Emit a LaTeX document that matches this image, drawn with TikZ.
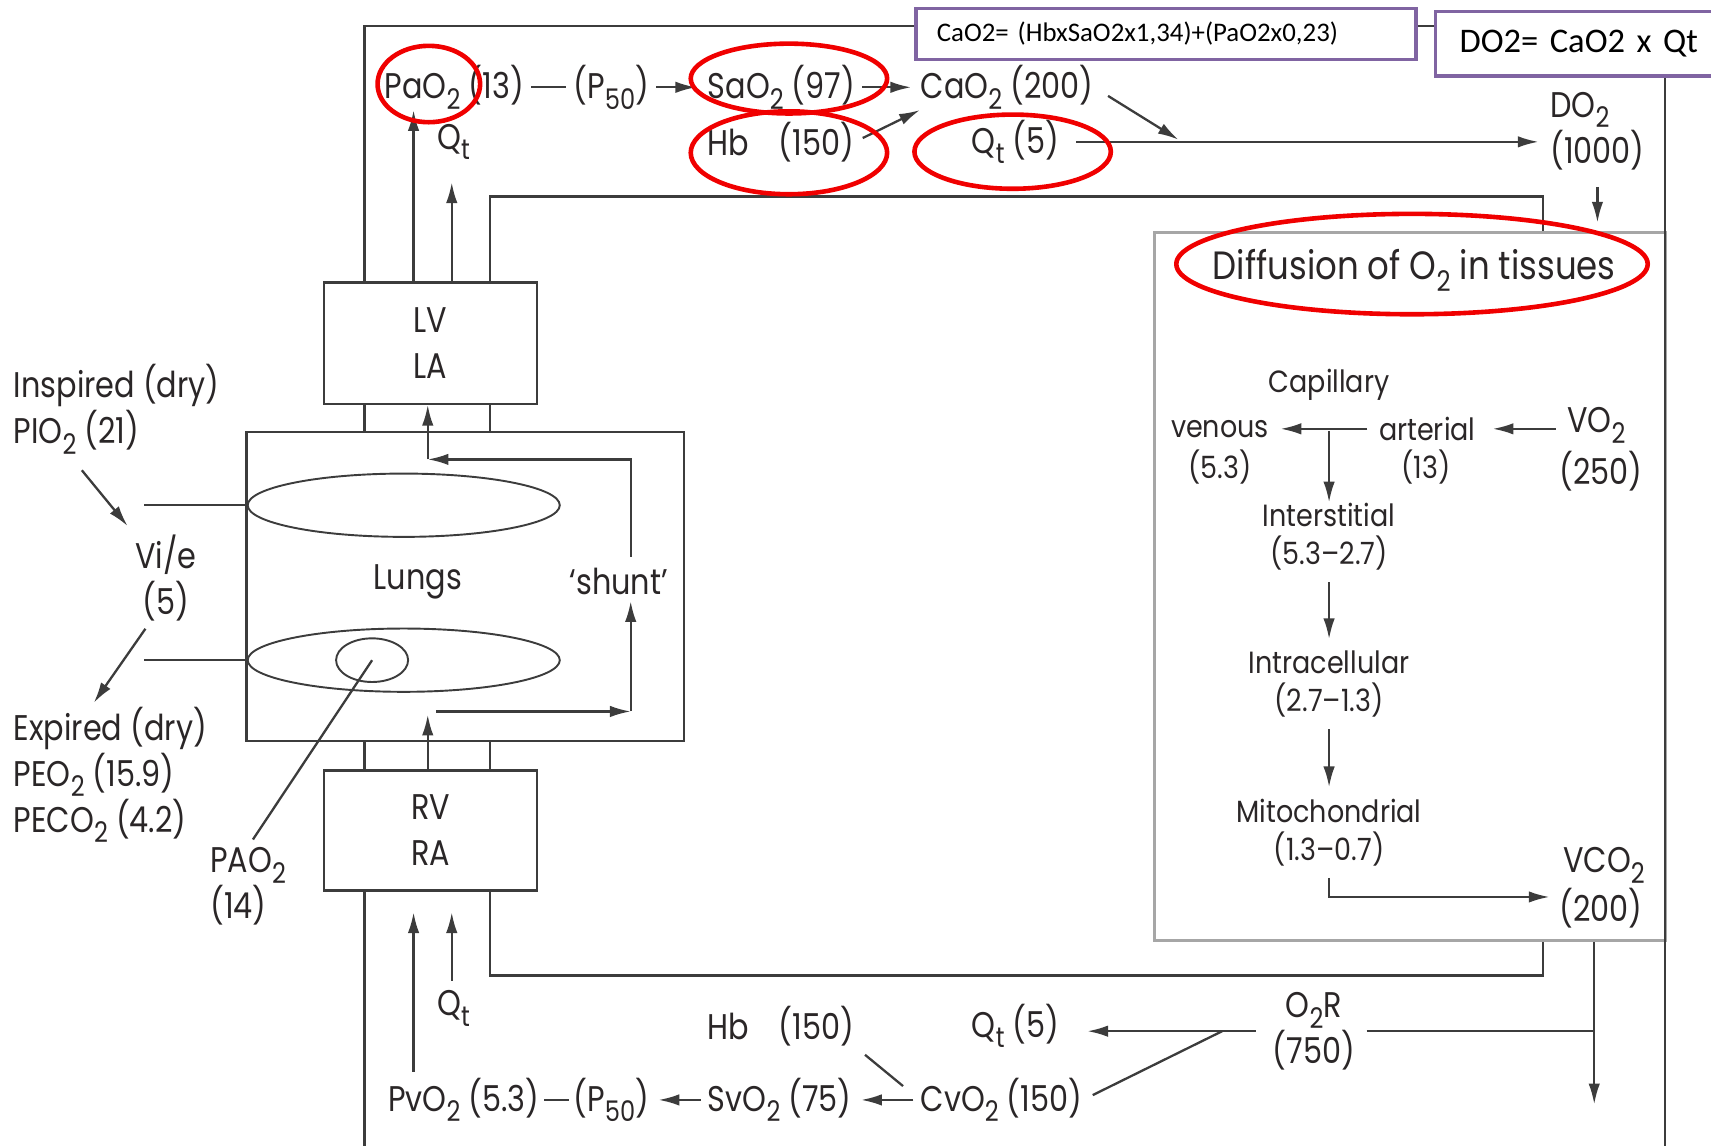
\documentclass[tikz,border=0pt]{standalone}
\usepackage{xcolor}
\usepackage{fontspec}
\usepackage{tikz}
\usetikzlibrary{shapes,arrows.meta,positioning,calc}
\newfontfamily\lblfont{Poppins}[FakeStretch=0.85]
\newfontfamily\difffont{Poppins}[FakeStretch=0.88]
\newfontfamily\titlefont{Poppins}[FakeStretch=0.86]
\newfontfamily\calfont{Carlito}
\definecolor{ink}{HTML}{2A2627}
\definecolor{wirec}{HTML}{3C3C3C}
\definecolor{ringred}{HTML}{F00000}
\definecolor{boxpurple}{HTML}{8064A2}
\newcommand\low[1]{\raisebox{-0.55ex}{\fontsize{7.4}{7.4}\selectfont #1}}
\tikzset{
  lbl/.style={inner sep=0pt, text=ink, font=\lblfont\fontsize{9.3}{12}\selectfont},
  sml/.style={inner sep=0pt, text=ink, font=\difffont\fontsize{8}{10}\selectfont, align=center},
  wire/.style={draw=wirec, line width=0.6pt},
  arr/.style={wire, -{Latex[length=1.9mm,width=1.05mm]}},
  organ/.style={rectangle, draw=wirec, line width=0.6pt, inner sep=0pt},
  alv/.style={ellipse, draw=wirec, line width=0.5pt, inner sep=0pt},
  ring/.style={draw=ringred, line width=1.2pt},
  formula/.style={rectangle, draw=boxpurple, line width=0.9pt, fill=white, anchor=north west, align=left, text=black, inner ysep=0pt},
}
\begin{document}
\begin{tikzpicture}[x=0.1mm, y=-0.1mm]
\useasboundingbox (0,0) rectangle (1568,1050);
\coordinate (c0) at (334,24);
\coordinate (c1) at (379,0);
\coordinate (c2) at (414,0);
\coordinate (c3) at (449,180);
\coordinate (c5) at (578,0);
\coordinate (c6) at (1414,0);
\coordinate (c7) at (1461,1012);
\coordinate (c8) at (1526,1060);
\coordinate (c9) at (449,894);
\coordinate (c10) at (132,0);

\node[organ, lbl, minimum width=19.5mm, minimum height=11.1mm, align=center] (lv) at (394.5,314.5) {LV\\LA};
\node[organ, minimum width=40.1mm, minimum height=28.3mm] (lung) at (426.5,537.5) {};
\node[organ, lbl, minimum width=19.5mm, minimum height=11mm, align=center] (rv) at (394.5,761) {RV\\RA};
\node[organ, draw=gray!70, minimum width=46.9mm, minimum height=64.9mm] (tis) at (1292.5,537.5) {};
\node[alv, minimum width=28.6mm, minimum height=5.8mm] (alv1) at (370,463) {};
\node[alv, minimum width=28.6mm, minimum height=5.8mm] (alv2) at (370,605) {};
\node[alv, minimum width=6.6mm, minimum height=4mm] (alv3) at (341,605) {};
\node[lbl] (lungs) at (383,533) {Lungs};
\node[lbl] (shunt) at (567,533) {‘shunt’};

\draw[wire] (lv.north -| c0) -- (c0) -| (c8);
\draw[wire] (rv.south -| c0) -- (c0 |- c8);
\draw[wire] (lv.north -| c3) -- (c3) -| (tis.north -| c6);
\draw[wire] (rv.south -| c9) -- (c9) -| (tis.south -| c6);
\foreach \c in {c0,c3} {
  \draw[wire] (lv.south -| \c) -- (lung.north -| \c);
  \draw[wire] (lung.south -| \c) -- (rv.north -| \c);
}

\node[formula, font=\calfont\fontsize{7}{8}\selectfont, text width=42mm, inner xsep=1.9mm, minimum height=4.7mm] (cab) at (838,6) {CaO2= (HbxSaO2x1,34)+(PaO2x0,23)};
\node[formula, font=\calfont\fontsize{9}{11}\selectfont, text width=26mm, inner xsep=2.2mm, minimum height=5.9mm] (dob) at (1314,9) {DO2= CaO2 x Qt};

\node[lbl, anchor=west] (pa) at (352,80) {PaO\low{2} (13)};
\node[lbl, anchor=west] (p50a) at (525,80) {(P\low{50})};
\node[lbl, anchor=west] (sa) at (648,80) {SaO\low{2} (97)};
\node[lbl, anchor=west] (ca) at (843,80) {CaO\low{2} (200)};
\node[lbl, anchor=west] (qa) at (400,130) {Q\low{t}};
\node[lbl, anchor=west] (hba) at (648,130) {Hb\hspace{0.6em} (150)};
\node[lbl, anchor=west] (qta) at (890,130) {Q\low{t} (5)};
\node[lbl, anchor=west, align=left] (do) at (1420,120) {DO\low{2}\\(1000)};
\coordinate (j1) at (1080,128);

\draw[arr] (lv.north -| c1) -- (pa.south -| c1);
\draw[arr, shorten >=2mm] (lv.north -| c2) -- (qa.south -| c2);
\draw[wire, shorten <=0.6mm, shorten >=0.6mm] (pa.east) -- (p50a.west);
\draw[arr, shorten <=0.6mm, shorten >=1mm] (p50a.east) -- (sa.west);
\draw[arr, shorten <=0.6mm, shorten >=0.8mm] (sa.east) -- (ca.west);
\draw[arr, shorten <=0.8mm] (hba.east) -- (ca.south west);
\draw[arr, shorten <=1.5mm] (ca.east) -- (j1);
\draw[arr, shorten <=1.5mm, shorten >=1mm] (qta.east) -- (qta.east -| do.west);
\draw[arr, shorten <=1.5mm, shorten >=0.8mm] (do.south) -- (do.south |- tis.north);

\node[lbl, anchor=north west, align=left] (insp) at (12,333) {Inspired (dry)\\PIO\low{2} (21)};
\node[lbl, align=center] (vie) at (152,530) {Vi/e\\(5)};
\node[lbl, anchor=north west, align=left] (expi) at (12,647) {Expired (dry)\\PEO\low{2} (15.9)\\PECO\low{2} (4.2)};
\node[lbl, anchor=north west, align=left] (pA) at (192,776) {PAO\low{2}\\(14)};
\draw[arr, shorten >=1mm] ([xshift=6.3mm, yshift=-1.4mm]insp.south west) -- (vie.north west);
\draw[arr] ([xshift=1mm, yshift=-0.6mm]vie.south west) -- ([xshift=7.4mm, yshift=0.3mm]expi.north west);
\draw[wire] (alv1.west -| c10) -- (alv1.west);
\draw[wire] (alv2.west -| c10) -- (alv2.west);
\draw[wire, shorten >=0.8mm] (alv3.center) -- (pA.north);

\coordinate (sh1) at (392,421);
\coordinate (sh2) at (392,655);
\coordinate (sh3) at (400,652);
\draw[arr] (sh1) -- (sh1 |- lv.south);
\draw[arr, shorten <=1mm] (shunt.north -| c5) |- (sh1);
\draw[arr] (rv.north -| sh2) -- (sh2);
\draw[arr] (sh3) -- (sh3 -| c5);
\draw[arr, shorten >=0.5mm] (sh3 -| c5) -- (shunt.south -| c5);

\node[lbl, anchor=west] (qb) at (400,924) {Q\low{t}};
\node[lbl, anchor=west] (pv) at (355,1008) {PvO\low{2} (5.3)};
\node[lbl, anchor=west] (p50v) at (525,1008) {(P\low{50})};
\node[lbl, anchor=west] (sv) at (648,1008) {SvO\low{2} (75)};
\node[lbl, anchor=west] (cv) at (843,1008) {CvO\low{2} (150)};
\node[lbl, anchor=west] (hbv) at (648,940) {Hb\hspace{0.6em} (150)};
\node[lbl, anchor=west] (qtv) at (890,940) {Q\low{t} (5)};
\node[lbl, align=center] (o2r) at (1204,945) {O\low{2}R\\(750)};
\coordinate (j3) at (1120,945);

\draw[arr, shorten <=0.5mm, shorten >=1.9mm] (pv.north -| c1) -- (rv.south -| c1);
\draw[arr, shorten <=0.8mm, shorten >=1.9mm] (qb.north -| c2) -- (rv.south -| c2);
\draw[wire, shorten <=0.4mm, shorten >=0.4mm] (pv.east) -- (p50v.west);
\draw[arr, shorten <=0.6mm, shorten >=0.8mm] (sv.west) -- (p50v.east);
\draw[arr, shorten <=0.6mm, shorten >=0.8mm] (cv.west) -- (sv.east);
\draw[wire, shorten <=1.2mm, shorten >=2mm] (hbv.south east) -- (cv.west);
\draw[arr, shorten <=1.5mm, shorten >=2.5mm] (o2r.west) -- (o2r.west -| qtv.east);
\draw[wire, shorten <=1mm] (cv.east) -- (j3);
\draw[wire, shorten <=1mm] (o2r.east) -- (o2r.east -| c7);
\draw[arr] (tis.south -| c7) -- (c7);

\node[inner sep=0pt, text=ink, font=\titlefont\fontsize{10.3}{12}\selectfont] (dtit) at (1296,248) {Diffusion of O\low{2} in tissues};
\node[sml] (capl) at (1218,353) {Capillary};
\node[sml] (ven) at (1118,393) {venous};
\node[sml] (venv) at (1118,428) {(5.3)};
\node[sml] (art) at (1308,393) {arterial};
\node[sml] (artv) at (1307,428) {(13)};
\node[lbl] (vo) at (1463,390) {VO\low{2}};
\node[lbl] (vov) at (1467,432) {(250)};
\node[sml] (inter) at (1218,492) {Interstitial\\(5.3–2.7)};
\node[sml] (intra) at (1218,627) {Intracellular\\(2.7–1.3)};
\node[sml] (mito) at (1218,763) {Mitochondrial\\(1.3–0.7)};
\node[lbl] (vco) at (1470,793) {VCO\low{2}};
\node[lbl] (vcov) at (1467,832) {(200)};
\coordinate (j2) at (1218,395);
\coordinate (j4) at (1420,822);
\draw[arr, shorten <=1mm, shorten >=1mm] (art.west) -- (ven.east);
\draw[arr, shorten <=1mm, shorten >=1.5mm] (vo.west |- art.east) -- (art.east);
\draw[arr] (j2) -- (inter.north);
\draw[arr, shorten <=1mm, shorten >=1mm] (inter.south) -- (intra.north);
\draw[arr, shorten <=1mm, shorten >=1mm] (intra.south) -- (mito.north);
\draw[arr, shorten <=1mm] (mito.south) |- (j4);

\draw[ring] (393,77) ellipse [x radius=47, y radius=35];
\draw[ring] (723,72) ellipse [x radius=90, y radius=32];
\draw[ring] (723,140) ellipse [x radius=90, y radius=38];
\draw[ring] (928,139) ellipse [x radius=90, y radius=34];
\draw[ring] (1294,242) ellipse [x radius=216, y radius=46];
\end{tikzpicture}
\end{document}
